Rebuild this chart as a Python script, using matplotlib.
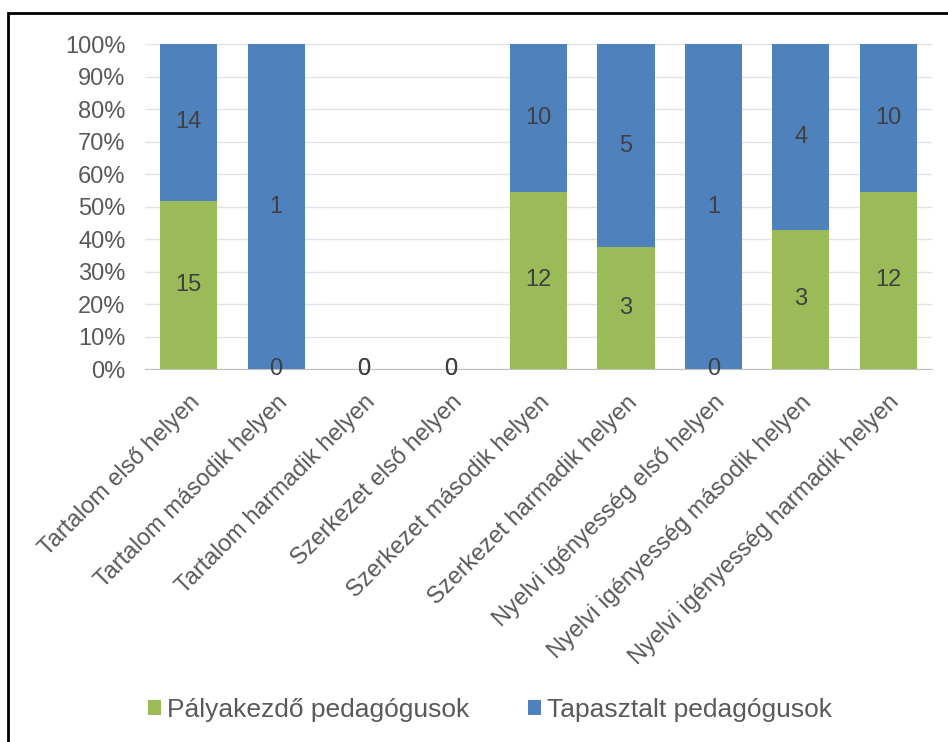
import numpy as np
import matplotlib.pyplot as plt
from matplotlib.patches import Rectangle
from matplotlib.ticker import PercentFormatter

plt.rcParams['font.family'] = ['Liberation Sans', 'DejaVu Sans']

categories = [
    "Tartalom első helyen",
    "Tartalom második helyen",
    "Tartalom harmadik helyen",
    "Szerkezet első helyen",
    "Szerkezet második helyen",
    "Szerkezet harmadik helyen",
    "Nyelvi igényesség első helyen",
    "Nyelvi igényesség második helyen",
    "Nyelvi igényesség harmadik helyen",
]
palyakezdo = [15, 0, 0, 0, 12, 3, 0, 3, 12]
tapasztalt = [14, 1, 0, 0, 10, 5, 1, 4, 10]
series_names = ["Pályakezdő pedagógusok", "Tapasztalt pedagógusok"]
colors = ["#9BBB59", "#4F81BD"]

green = np.array(palyakezdo, dtype=float)
blue = np.array(tapasztalt, dtype=float)
total = green + blue
safe = np.where(total == 0, 1, total)
g_pct = green / safe * 100
b_pct = blue / safe * 100

fig = plt.figure(figsize=(9.48, 7.42), dpi=100)
ax = fig.add_axes([145 / 948, 1 - 369 / 742, 787 / 948, 325 / 742])

x = np.arange(len(categories))
w = 0.655
ax.bar(x, g_pct, w, color=colors[0], label=series_names[0], zorder=2)
ax.bar(x, b_pct, w, bottom=g_pct, color=colors[1], label=series_names[1], zorder=2)

# data labels in the middle of each segment (zero segments land on baseline)
for i in range(len(categories)):
    ax.text(x[i], g_pct[i] / 2, f"{palyakezdo[i]}", ha="center", va="center",
            fontsize=17, color="#404040", zorder=3)
    ax.text(x[i], g_pct[i] + b_pct[i] / 2, f"{tapasztalt[i]}", ha="center",
            va="center", fontsize=17, color="#404040", zorder=3)

ax.set_xlim(-0.5, len(categories) - 0.5)
ax.set_ylim(0, 100)
ax.set_yticks(np.arange(0, 101, 10))
ax.yaxis.set_major_formatter(PercentFormatter(decimals=0))
ax.grid(axis="y", color="#E3E3E3", linewidth=1, zorder=0)
for s in ["top", "right", "left"]:
    ax.spines[s].set_visible(False)
ax.spines["bottom"].set_color("#BFBFBF")
ax.tick_params(axis="y", length=0, labelsize=17, colors="#595959", pad=14)
ax.set_xticks(x)
ax.set_xticklabels(categories, rotation=45, ha="right", rotation_mode="anchor",
                   fontsize=17, color="#595959")
ax.tick_params(axis="x", length=0, pad=16)

leg = fig.legend(loc="center", bbox_to_anchor=(490 / 948, 1 - 710 / 742), ncol=2,
                 frameon=False, fontsize=19, handlelength=0.5, handleheight=0.5,
                 handletextpad=0.25, columnspacing=2.2)
for t in leg.get_texts():
    t.set_color("#595959")

fig.patches.append(Rectangle((8 / 948, -0.1), 1.2, 1 - 13 / 742 + 0.1,
                             transform=fig.transFigure, fill=False,
                             edgecolor="black", linewidth=2))

fig.savefig("out.png", dpi=100)
